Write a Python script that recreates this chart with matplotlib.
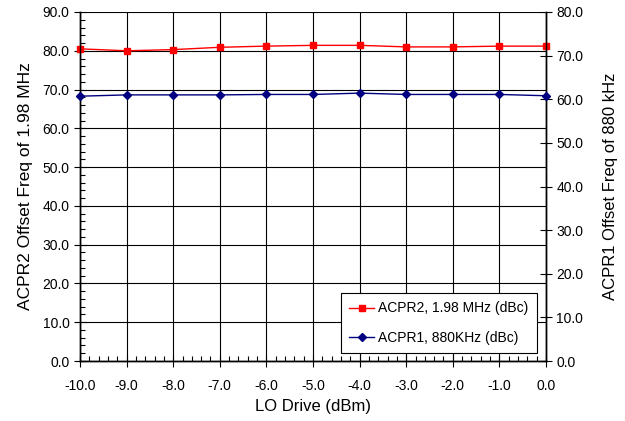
import numpy as np
import matplotlib
matplotlib.use("Agg")
import matplotlib.pyplot as plt
from matplotlib.ticker import MultipleLocator, FormatStrFormatter

plt.rcParams['font.family'] = ['Liberation Sans', 'DejaVu Sans']

lo_drive = [-10.0, -9.0, -8.0, -7.0, -6.0, -5.0, -4.0, -3.0, -2.0, -1.0, 0.0]
acpr2 = [80.5, 80.0, 80.3, 80.9, 81.2, 81.4, 81.4, 81.0, 81.0, 81.2, 81.2]
acpr1 = [60.7, 61.0, 61.0, 61.0, 61.1, 61.1, 61.4, 61.1, 61.1, 61.1, 60.8]

fig = plt.figure(figsize=(6.25, 4.21), dpi=100)
ax = fig.add_axes([0.128, 0.1425, 0.7456, 0.829])
ax2 = ax.twinx()

l2, = ax.plot(lo_drive, acpr2, color='#ff0000', marker='s', markersize=5,
              linewidth=1.0, label='ACPR2, 1.98 MHz (dBc)', clip_on=False, zorder=5)
l1, = ax2.plot(lo_drive, acpr1, color='#000080', marker='D', markersize=4,
               linewidth=1.0, label='ACPR1, 880KHz (dBc)', clip_on=False, zorder=5)

ax.set_xlim(-10, 0)
ax.set_ylim(0, 90)
ax2.set_ylim(0, 80)

ax.xaxis.set_major_locator(MultipleLocator(1))
ax.xaxis.set_minor_locator(MultipleLocator(0.2))
ax.yaxis.set_major_locator(MultipleLocator(10))
ax.yaxis.set_minor_locator(MultipleLocator(2))
ax2.yaxis.set_major_locator(MultipleLocator(10))
ax.xaxis.set_major_formatter(FormatStrFormatter('%.1f'))
ax.yaxis.set_major_formatter(FormatStrFormatter('%.1f'))
ax2.yaxis.set_major_formatter(FormatStrFormatter('%.1f'))

ax.grid(True, which='major', color='black', linewidth=0.8)
ax.set_axisbelow(True)

ax.tick_params(which='major', direction='inout', length=8, width=0.8,
               labelsize=10, colors='black')
ax.tick_params(which='minor', direction='in', length=3.5, width=0.8)
ax.tick_params(axis='x', which='major', pad=9)
ax2.tick_params(which='major', direction='inout', length=8, width=0.8,
                labelsize=10)

for a in (ax, ax2):
    for s in a.spines.values():
        s.set_linewidth(1.0)
ax.spines['top'].set_visible(False)
ax2.spines['top'].set_visible(False)

ax.set_xlabel('LO Drive (dBm)', fontsize=12, labelpad=4)
ax.set_ylabel('ACPR2 Offset Freq of 1.98 MHz', fontsize=12.5, labelpad=7)
ax2.set_ylabel('ACPR1 Offset Freq of 880 kHz', fontsize=12, labelpad=14)

leg = ax2.legend(handles=[l2, l1], loc='lower right',
                 bbox_to_anchor=(0.9807, 0.0229), fontsize=10, fancybox=False,
                 framealpha=1, edgecolor='black', borderpad=0.6,
                 labelspacing=1.1, handlelength=1.8, handletextpad=0.3,
                 borderaxespad=0.0)
leg.get_frame().set_linewidth(0.8)

fig.savefig('out.png', dpi=100)
